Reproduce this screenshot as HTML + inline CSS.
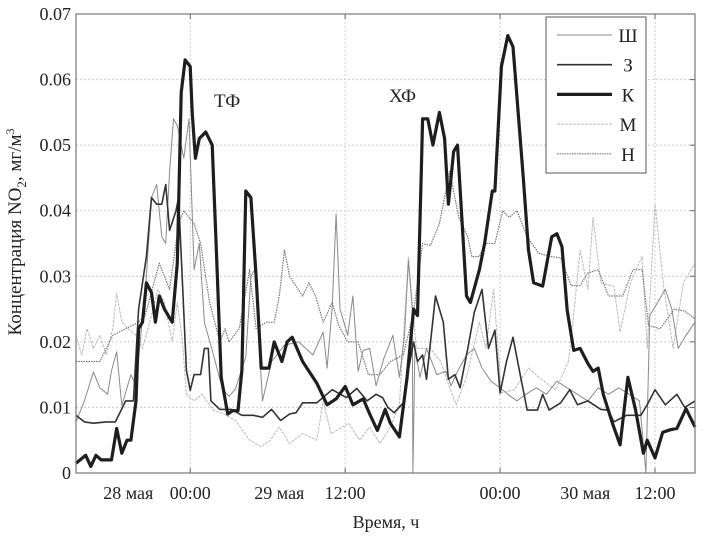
<!DOCTYPE html>
<html><head><meta charset="utf-8"><style>
body{margin:0;background:#fff;}
svg text{font-family:"Liberation Serif",serif;fill:#222;}
</style></head><body>
<svg id="c" width="706" height="542" xmlns="http://www.w3.org/2000/svg"></svg>
<script>
const yTicks=[0,0.01,0.02,0.03,0.04,0.05,0.06,0.07];
const yTickLabels=["0","0.01","0.02","0.03","0.04","0.05","0.06","0.07"];
const xGrid=[0,12,24,36];
const xTickLabels=["28 мая","00:00","29 мая","12:00","00:00","30 мая","12:00"];
const xTickPos=[-4.8,0,6.9,12,24,30.6,36];
const seriesNames=["Ш","З","К","М","Н"];
const shT=[-8.85,-8.2,-7.5,-7.0,-6.4,-6.1,-5.7,-5.3,-4.6,-4.2,-3.4,-3.0,-2.6,-2.2,-1.9,-1.6,-1.3,-1.0,-0.5,-0.1,0.3,0.7,1.1,1.8,2.5,3.0,3.5,4.3,4.7,5.0,5.6,6.3,7.3,8.4,9.5,10.3,10.6,11.0,11.3,11.6,12.2,12.6,13.0,13.4,13.9,14.4,15.0,15.7,16.2,16.6,16.9,17.2,17.25,17.4,17.8,18.3,19.1,19.8,20.2,20.7,21.4,22.0,22.6,23.3,24.0,24.6,25.3,26.0,26.8,27.6,28.4,29.2,30.0,30.8,31.6,32.4,33.2,34.0,34.8,35.3,35.6,36.2,36.8,37.3,37.8,38.4,39.1];
const shV=[0.0078,0.011,0.0154,0.013,0.012,0.0156,0.0185,0.0103,0.015,0.0133,0.03,0.042,0.044,0.036,0.035,0.046,0.054,0.053,0.048,0.054,0.031,0.035,0.023,0.018,0.0128,0.0117,0.0128,0.0177,0.030,0.031,0.011,0.017,0.0195,0.020,0.018,0.0215,0.016,0.0253,0.0395,0.025,0.021,0.027,0.0155,0.0187,0.019,0.0133,0.0175,0.021,0.0146,0.021,0.0324,0.025,0,0.019,0.0146,0.019,0.015,0.0155,0.0133,0.0155,0.018,0.019,0.016,0.014,0.013,0.012,0.011,0.012,0.013,0.012,0.014,0.013,0.012,0.011,0.013,0.012,0.013,0.012,0.011,0.0,0.024,0.026,0.028,0.025,0.019,0.021,0.023];
const zT=[-8.85,-8.2,-7.5,-6.5,-5.8,-5.0,-4.4,-4.0,-3.4,-3.0,-2.6,-2.2,-1.9,-1.6,-1.1,-0.9,-0.3,0,0.3,0.8,1.1,1.4,1.6,2.3,3.2,4.0,4.9,5.6,6.3,7.0,7.7,8.2,8.7,9.8,11.0,12.1,12.9,13.7,14.4,14.9,15.3,15.8,16.5,16.8,17.3,17.6,18.0,18.3,19.0,19.6,20.0,20.5,20.9,21.5,22.0,22.6,23.1,23.6,24.0,24.5,25.0,25.6,26.1,26.9,27.3,27.8,28.7,29.4,30.0,30.8,31.8,32.4,32.8,33.8,34.9,35.4,36.0,36.8,37.7,38.3,39.1];
const zV=[0.0088,0.0078,0.0076,0.0078,0.0078,0.011,0.011,0.025,0.033,0.042,0.041,0.041,0.044,0.037,0.040,0.042,0.0157,0.0126,0.015,0.015,0.019,0.019,0.011,0.0097,0.0097,0.0088,0.0088,0.0085,0.0097,0.008,0.009,0.0092,0.0107,0.0107,0.0127,0.0115,0.0129,0.011,0.012,0.0115,0.010,0.0092,0.0107,0.0146,0.020,0.017,0.018,0.0143,0.027,0.023,0.0143,0.015,0.013,0.019,0.0245,0.028,0.019,0.0218,0.0122,0.017,0.0207,0.0146,0.0096,0.0096,0.012,0.0096,0.0107,0.0127,0.0104,0.011,0.0097,0.0096,0.0078,0.0088,0.0088,0.0104,0.0127,0.0104,0.012,0.010,0.011];
const kT=[-8.85,-8.1,-7.7,-7.3,-6.9,-6.1,-5.7,-5.3,-4.9,-4.6,-4.2,-4.0,-3.7,-3.4,-3.0,-2.7,-2.4,-2.0,-1.4,-1.0,-0.7,-0.4,0,0.15,0.4,0.7,1.2,1.7,2.0,2.4,2.9,3.3,3.7,4.0,4.3,4.7,5.1,5.5,6.1,6.5,7.1,7.5,7.9,8.7,9.8,10.6,11.3,12.0,12.6,13.4,13.9,14.5,15.1,15.5,16.2,16.8,17.3,17.6,17.9,18.0,18.4,18.8,19.3,19.7,20.0,20.4,20.7,21.4,21.7,22.4,22.8,23.4,23.6,24.1,24.6,25.0,25.8,26.2,26.6,27.3,28.0,28.4,28.8,29.2,29.7,30.2,30.8,31.2,31.6,32.0,32.7,33.3,33.9,34.5,35.1,35.4,36.0,36.6,37.2,37.7,38.4,39.1];
const kV=[0.0015,0.0027,0.001,0.0027,0.002,0.002,0.0068,0.003,0.005,0.005,0.011,0.022,0.023,0.029,0.0275,0.023,0.027,0.025,0.023,0.032,0.058,0.063,0.062,0.055,0.048,0.051,0.052,0.050,0.035,0.0146,0.009,0.0095,0.0095,0.0157,0.043,0.042,0.030,0.016,0.016,0.020,0.017,0.020,0.0207,0.017,0.0137,0.0104,0.0113,0.0132,0.0104,0.0113,0.009,0.0065,0.0097,0.0076,0.0055,0.0146,0.025,0.024,0.046,0.054,0.054,0.050,0.055,0.051,0.041,0.049,0.050,0.027,0.026,0.031,0.035,0.043,0.043,0.062,0.0667,0.065,0.045,0.034,0.029,0.0285,0.036,0.0365,0.0345,0.0248,0.0187,0.019,0.0167,0.0155,0.016,0.012,0.0076,0.0043,0.0146,0.0096,0.003,0.005,0.0023,0.0062,0.0066,0.0068,0.0098,0.007];
const mT=[-8.85,-8.4,-8.0,-7.5,-7.0,-6.5,-6.0,-5.7,-5.3,-4.8,-4.2,-3.7,-3.0,-2.5,-2.0,-1.4,-1.0,-0.6,-0.3,0.3,0.9,1.8,2.6,3.5,4.6,5.5,6.2,6.9,7.7,8.7,9.8,10.3,10.9,12.3,13.1,13.9,14.7,15.5,16.2,16.9,17.5,18.6,19.4,20.1,20.6,21.4,22.4,22.9,23.5,24.1,25.1,26.2,27.0,28.3,29.3,29.8,30.2,30.8,31.2,31.8,32.8,33.3,34.1,35.0,35.4,36.0,36.7,37.4,38.2,39.1];
const mV=[0.021,0.018,0.022,0.019,0.021,0.018,0.022,0.0274,0.023,0.022,0.021,0.019,0.024,0.028,0.026,0.020,0.026,0.020,0.012,0.011,0.012,0.0096,0.009,0.008,0.005,0.004,0.005,0.007,0.0045,0.006,0.005,0.011,0.006,0.0076,0.005,0.007,0.0045,0.007,0.0104,0.033,0.019,0.019,0.017,0.013,0.0104,0.0146,0.023,0.019,0.028,0.0122,0.0127,0.016,0.0146,0.0127,0.017,0.026,0.034,0.028,0.039,0.029,0.0285,0.0215,0.029,0.033,0.019,0.041,0.028,0.019,0.029,0.032];
const nT=[-8.85,-7.0,-6.0,-5.0,-4.0,-3.5,-2.4,-1.6,-0.9,-0.5,0.3,0.8,1.5,2.3,2.7,3.0,3.8,4.6,5.1,5.9,6.5,6.9,7.3,7.7,8.7,9.2,9.7,10.3,11.0,11.5,12.2,13.0,13.8,14.7,15.5,16.5,17.3,18.0,18.6,19.3,20.1,20.8,21.5,21.8,22.4,22.8,23.6,24.2,24.7,25.3,26.1,27.0,28.0,28.7,29.5,30.2,30.8,31.6,32.4,33.5,34.3,35.0,35.5,36.4,37.5,38.3,39.1];
const nV=[0.017,0.017,0.021,0.022,0.023,0.024,0.032,0.028,0.038,0.040,0.038,0.035,0.026,0.020,0.022,0.020,0.022,0.031,0.022,0.023,0.023,0.027,0.034,0.030,0.027,0.029,0.027,0.023,0.026,0.0225,0.020,0.020,0.015,0.015,0.017,0.018,0.0245,0.035,0.0347,0.038,0.046,0.039,0.036,0.033,0.033,0.035,0.035,0.040,0.039,0.040,0.036,0.0335,0.033,0.0328,0.0286,0.0286,0.0305,0.031,0.027,0.027,0.031,0.031,0.0225,0.022,0.025,0.0247,0.0235];

const NS="http://www.w3.org/2000/svg";
const svg=document.getElementById('c');
const L=76,R=695,T=14,B=473,X0=-8.85,X1=39.1;
const xs=h=>L+(h-X0)/(X1-X0)*(R-L);
const ys=v=>B-v/0.07*(B-T);
function mk(tag,attrs,parent){const e=document.createElementNS(NS,tag);for(const k in attrs)e.setAttribute(k,attrs[k]);(parent||svg).appendChild(e);return e;}
// gridlines
yTicks.forEach((v,i)=>{
  if(v>0&&v<0.07){const g=mk('line',{x1:L,x2:R,y1:ys(v),y2:ys(v),stroke:'#ccc','stroke-width':1,'stroke-dasharray':'2,2'});
  
  }
  const tk=mk('line',{x1:R-5,x2:R,y1:ys(v),y2:ys(v),stroke:'#666'});
  
  
  const t=mk('text',{x:L-5,y:ys(v)+6,'text-anchor':'end','font-size':18});
  t.textContent=yTickLabels[i];
  
  
});
xGrid.forEach(h=>{
  const g=mk('line',{x1:xs(h),x2:xs(h),y1:T,y2:B,stroke:'#ccc','stroke-width':1,'stroke-dasharray':'2,2'});
  
  
  const tk=mk('line',{x1:xs(h),x2:xs(h),y1:B-5,y2:B,stroke:'#666'});
  
  
  const tk2=mk('line',{x1:xs(h),x2:xs(h),y1:T,y2:T+5,stroke:'#666'});
  
  
});
xTickLabels.forEach((s,i)=>{
  const t=mk('text',{x:xs(xTickPos[i]),y:499,'text-anchor':'middle','font-size':18});
  t.textContent=s;
  
  
});
const styles=[
 {stroke:'#8a8a8a',w:1,d:''},
 {stroke:'#333',w:1.6,d:''},
 {stroke:'#1e1e1e',w:3.2,d:''},
 {stroke:'#bbb',w:1,d:'3,1'},
 {stroke:'#777',w:1.2,d:'1.5,1'}];
const data=[[shT,shV],[zT,zV],[kT,kV],[mT,mV],[nT,nV]];
const order=[3,4,0,1,2];
order.forEach(i=>{
  const [t,v]=data[i];
  const d=t.map((h,j)=>(j?'L':'M')+xs(h).toFixed(1)+','+ys(v[j]).toFixed(1)).join('');
  const p=mk('path',{d:d,fill:'none',stroke:styles[i].stroke,'stroke-width':styles[i].w,'stroke-dasharray':styles[i].d,'stroke-linejoin':'round'});
  
  
});
const fr=mk('rect',{x:L,y:T,width:R-L,height:B-T,fill:'none',stroke:'#777','stroke-width':1.2});


// legend
const lg=mk('g',{});


mk('rect',{x:546,y:17,width:100,height:156,fill:'#fff',stroke:'#555','stroke-width':1},lg);
seriesNames.forEach((s,i)=>{
  const yy=35+i*29.7;
  const e=mk('g',{},lg);
  
  
  mk('line',{x1:557,x2:612,y1:yy,y2:yy,stroke:styles[i].stroke,'stroke-width':styles[i].w,'stroke-dasharray':styles[i].d},e);
  const t=mk('text',{x:628,y:yy+7,'text-anchor':'middle','font-size':19},e);
  t.textContent=s;
});
const a1=mk('text',{x:214,y:107,'font-size':19});a1.textContent='ТФ';


const a2=mk('text',{x:389,y:102,'font-size':19});a2.textContent='ХФ';


const xt=mk('text',{x:386,y:528,'text-anchor':'middle','font-size':18});xt.textContent='Время, ч';


const yt=mk('text',{x:0,y:0,'text-anchor':'middle','font-size':19,transform:'translate(21,232) rotate(-90)'});
yt.innerHTML='Концентрация NO<tspan font-size="13" dy="5">2</tspan><tspan dy="-5">, мг/м</tspan><tspan font-size="12" dy="-7">3</tspan>';


</script>
</body></html>
